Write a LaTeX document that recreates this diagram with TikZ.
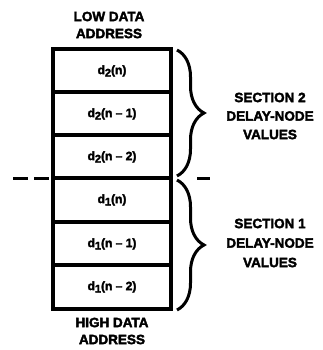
\documentclass[tikz,border=0pt]{standalone}
\usepackage{fontspec}
\setmainfont{Liberation Sans}[BoldFeatures={FakeBold=2.6}]
\usetikzlibrary{decorations.pathreplacing}
\newcommand{\dsub}[1]{d\raisebox{-2.4pt}{\fontsize{11}{10}\selectfont #1}}
\begin{document}
\begin{tikzpicture}[x=1pt,y=-1pt,
  label/.style={font=\fontsize{13.5}{17}\selectfont\bfseries, align=center, inner sep=0pt},
  cell/.style={font=\fontsize{12}{13}\selectfont\bfseries, inner sep=0pt},
  boxline/.style={line width=3.4pt},
  sectbrace/.style={line width=3pt, decorate,
    decoration={brace, amplitude=27pt, aspect=0.5}},
  divider/.style={line width=3pt}]
\useasboundingbox (0,0) rectangle (323,350);

% memory block: outer frame and row separators
\coordinate (tl) at (53,49);
\coordinate (br) at (171,309);
\draw[boxline] (tl) rectangle (br);
\foreach \y in {92,135,178,222,265}
  \draw[boxline] (53,\y) -- (171,\y);

% cell contents
\node[cell] (c1) at (112,71)  {\dsub{2}(n)};
\node[cell] (c2) at (112,114) {\dsub{2}(n -- 1)};
\node[cell] (c3) at (112,157) {\dsub{2}(n -- 2)};
\node[cell] (c4) at (112,200) {\dsub{1}(n)};
\node[cell] (c5) at (112,244) {\dsub{1}(n -- 1)};
\node[cell] (c6) at (112,287) {\dsub{1}(n -- 2)};

% address labels
\node[label] (low)  at (109,25)  {LOW DATA\\ADDRESS};
\node[label] (high) at (112,331) {HIGH DATA\\ADDRESS};

% section boundary
\coordinate (dl) at (13,178);
\coordinate (dm) at (50,178);
\draw[divider, dash pattern=on 15pt off 6pt] (dl) -- (dm);
\coordinate (dr1) at (197,178);
\coordinate (dr2) at (210,178);
\draw[divider] (dr1) -- (dr2);

% braces grouping the two sections
\coordinate (b2t) at (177,50);
\coordinate (b2b) at (177,176);
\coordinate (b1t) at (177,180);
\coordinate (b1b) at (177,310);
\draw[sectbrace] (b2t) -- (b2b);
\draw[sectbrace] (b1t) -- (b1b);

\node[label, font=\fontsize{13.5}{18.5}\selectfont\bfseries] (s2) at (270,116) {SECTION 2\\DELAY-NODE\\VALUES};
\node[label, font=\fontsize{13.5}{19.5}\selectfont\bfseries] (s1) at (270,243) {SECTION 1\\DELAY-NODE\\VALUES};
\end{tikzpicture}
\end{document}
